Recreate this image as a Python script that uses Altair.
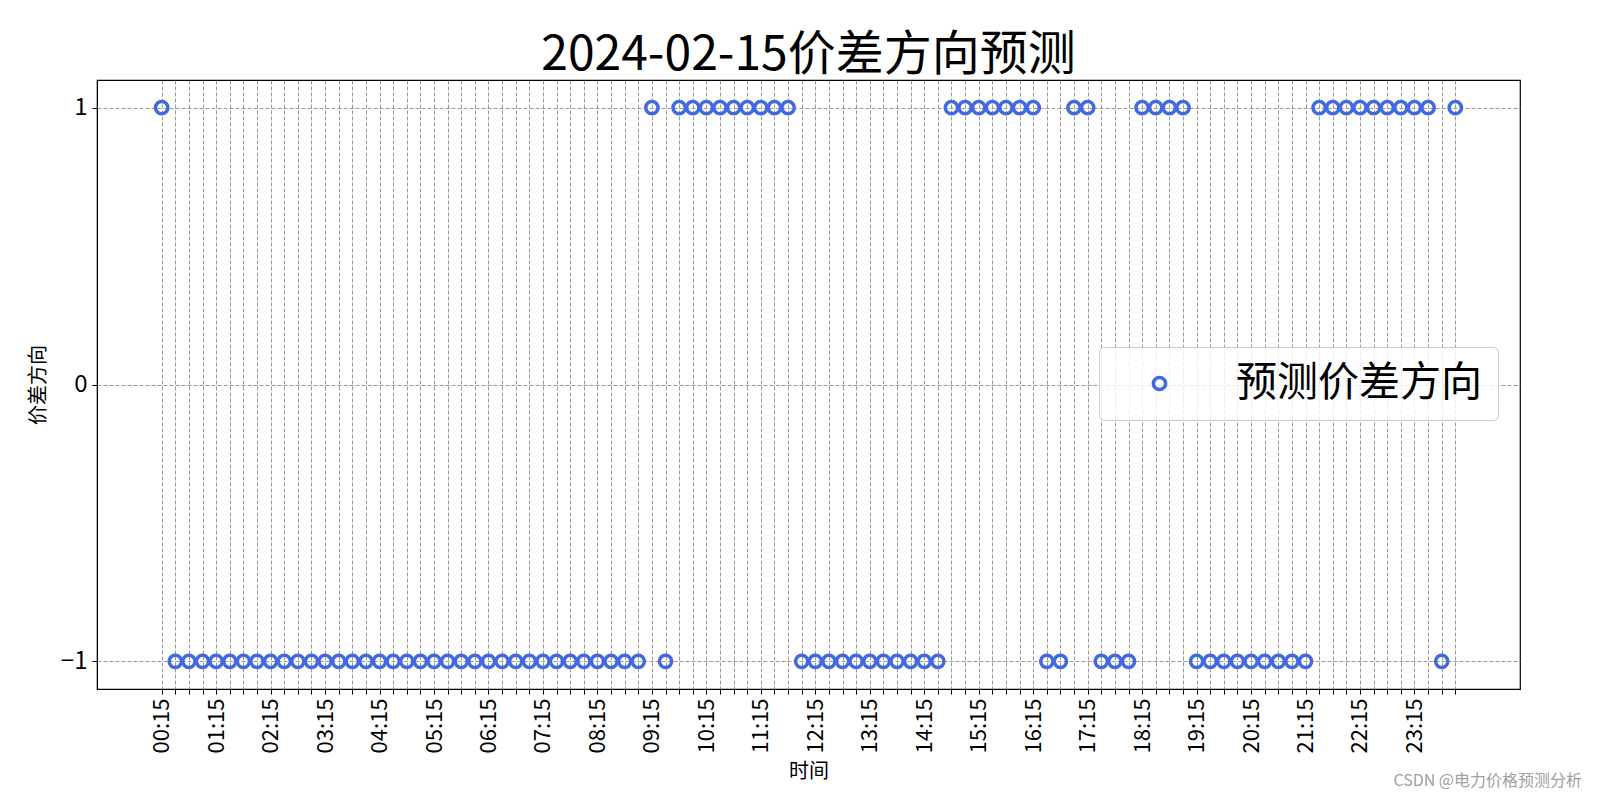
import altair as alt
import pandas as pd

FONT = "Noto Sans CJK SC"

# 96 quarter-hour slots, 00:15 ... 24:00
times = [f"{(m // 60):02d}:{(m % 60):02d}" for m in range(15, 24 * 60 + 1, 15)]

values = [
    1,
    -1, -1, -1, -1, -1, -1, -1, -1, -1, -1, -1, -1, -1, -1, -1, -1, -1, -1,
    -1, -1, -1, -1, -1, -1, -1, -1, -1, -1, -1, -1, -1, -1, -1, -1, -1,
    1,
    -1,
    1, 1, 1, 1, 1, 1, 1, 1, 1,
    -1, -1, -1, -1, -1, -1, -1, -1, -1, -1, -1,
    1, 1, 1, 1, 1, 1, 1,
    -1, -1,
    1, 1,
    -1, -1, -1,
    1, 1, 1, 1,
    -1, -1, -1, -1, -1, -1, -1, -1, -1,
    1, 1, 1, 1, 1, 1, 1, 1, 1,
    -1,
    1,
]

series_name = "预测价差方向"
y_ticks = [-1, 0, 1]
title_text = "2024-02-15价差方向预测"
x_title = "时间"
y_title = "价差方向"
watermark = ["CSDN @电力价格预测分析"]

idx = list(range(len(times)))
df = pd.DataFrame({"idx": idx, "time": times, "value": values, "series": series_name})

label_array = "[" + ",".join(f"'{t}'" for t in times) + "]"
x_label_expr = f"datum.value % 4 == 0 ? {label_array}[datum.value] : ''"

points = alt.Chart(df).mark_point(
    filled=False, shape="circle", size=150, strokeWidth=3.5, opacity=1
).encode(
    x=alt.X(
        "idx:Q",
        scale=alt.Scale(domain=[-4.75, len(times) - 1 + 4.75], nice=False, zero=False),
        axis=alt.Axis(
            title=x_title,
            values=idx,
            labelExpr=x_label_expr,
            labelAngle=270,
            labelAlign="right",
            labelBaseline="middle",
            labelFontSize=22,
            labelPadding=4,
            grid=True,
            gridDash=[4, 2],
            gridColor="#808080",
            gridWidth=0.8,
            tickSize=5,
            tickColor="black",
            domainColor="black",
            labelColor="black",
            titleFontSize=20,
            titleFontWeight="normal",
            titlePadding=9,
            labelOverlap=False,
            labelFlush=False,
        ),
    ),
    y=alt.Y(
        "value:Q",
        scale=alt.Scale(domain=[-1.1, 1.1], nice=False, zero=False),
        axis=alt.Axis(
            title=y_title,
            values=y_ticks,
            labelExpr="datum.value < 0 ? '−' + abs(datum.value) : '' + datum.value",
            labelFontSize=24,
            labelPadding=5,
            grid=True,
            gridDash=[4, 2],
            gridColor="#808080",
            gridWidth=0.8,
            tickSize=5,
            tickColor="black",
            domainColor="black",
            labelColor="black",
            titleFontSize=20,
            titleFontWeight="normal",
            titlePadding=12,
        ),
    ),
    tooltip=["time:N", "value:Q"],
    color=alt.Color(
        "series:N",
        scale=alt.Scale(range=["#4169e1"]),
        legend=alt.Legend(
            title=None,
            orient="none",
            legendX=1002,
            legendY=267,
            labelFontSize=41,
            labelFont=FONT,
            labelColor="black",
            labelLimit=0,
            symbolSize=150,
            symbolStrokeWidth=3.5,
            symbolType="circle",
            padding=16,
            symbolOffset=24,
            labelOffset=56,
            strokeColor="#cccccc",
            fillColor="rgba(255,255,255,0.8)",
            cornerRadius=5,
        ),
    ),
)

wm = alt.Chart(pd.DataFrame({"t": watermark})).mark_text(
    align="right", baseline="middle", fontSize=16, color="#a0a0a0", font=FONT
).encode(text="t:N", x=alt.value(1485), y=alt.value(701))

chart = (
    alt.layer(points, wm)
    .properties(
        width=1423,
        height=609,
        autosize=alt.AutoSizeParams(type="none"),
        padding={"left": 89, "top": 72, "right": 72, "bottom": 103},
        title=alt.TitleParams(
            title_text, fontSize=48, font=FONT, fontWeight="normal",
            anchor="middle", offset=0, color="black",
        ),
    )
    .configure(font=FONT)
    .configure_view(stroke="black", strokeWidth=1.2)
)

chart.save("out.html", embed_options={"renderer": "svg", "actions": False})
